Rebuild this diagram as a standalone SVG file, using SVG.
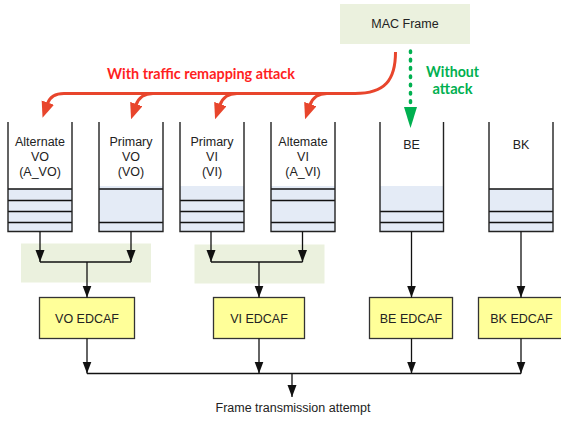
<svg xmlns="http://www.w3.org/2000/svg" width="561" height="422" viewBox="0 0 561 422">
  <style>
    .lbl { font-family: "Liberation Sans", Arial, sans-serif; font-size: 12.5px; fill: #222; text-anchor: middle; }
    .qwall { fill: none; stroke: #222; stroke-width: 1.4; }
    .qfill { fill: #E4EBF6; stroke: none; }
    .slot { stroke: #111; stroke-width: 1.4; }
    .merge { fill: #EBF1DE; stroke: none; }
    .edcaf { fill: #FFFF99; stroke: #333; stroke-width: 1.3; }
    .wire { fill: none; stroke: #111; stroke-width: 1.3; }
    .red { fill: none; stroke: #E8452C; stroke-width: 3; }
    .bold { font-family: Lato, "Liberation Sans", sans-serif; font-weight: 700; font-size: 15px; text-anchor: middle; }
  </style>
  <defs>
    <marker id="arr" markerUnits="userSpaceOnUse" markerWidth="12" markerHeight="10" refX="12" refY="4.5" orient="auto">
      <path d="M0,0 L12,4.5 L0,9 z" fill="#111"/>
    </marker>
    <marker id="redArr" markerUnits="userSpaceOnUse" markerWidth="16" markerHeight="14" refX="1" refY="6.5" orient="auto">
      <path d="M0,0 L16,6.5 L0,13 z" fill="#E8452C"/>
    </marker>
    <marker id="greenArr" markerUnits="userSpaceOnUse" markerWidth="22" markerHeight="14" refX="1" refY="6.5" orient="auto">
      <path d="M0,0 L21,6.5 L0,13 z" fill="#00B050"/>
    </marker>
  </defs>

  <!-- source frame -->
  <g id="mac-frame">
    <rect x="340" y="4" width="130" height="40" fill="#EBF1DE"/>
    <text class="lbl" x="405" y="28">MAC Frame</text>
  </g>

  <!-- merge areas behind the VO and VI pairs -->
  <g id="vo-merge"><rect class="merge" x="21" y="243.5" width="130" height="39"/></g>
  <g id="vi-merge"><rect class="merge" x="194.5" y="244.5" width="130" height="39"/></g>

  <!-- queues -->
  <g id="queue-a-vo">
    <rect class="qfill" x="8" y="189" width="64" height="42.5"/>
    <line class="slot" x1="8" y1="189" x2="72" y2="189"/>
    <line class="slot" x1="8" y1="200.5" x2="72" y2="200.5"/>
    <line class="slot" x1="8" y1="211.5" x2="72" y2="211.5"/>
    <line class="slot" x1="8" y1="222.5" x2="72" y2="222.5"/>
    <path class="qwall" d="M8,122 V231.5 H72 V122"/>
    <text class="lbl" x="40" y="146">Alternate</text>
    <text class="lbl" x="40" y="160.5">VO</text>
    <text class="lbl" x="40" y="175.5">(A_VO)</text>
  </g>
  <g id="queue-vo">
    <rect class="qfill" x="99" y="186" width="64" height="45.5"/>
    <line class="slot" x1="99" y1="189" x2="163" y2="189"/>
    <line class="slot" x1="99" y1="222.5" x2="163" y2="222.5"/>
    <path class="qwall" d="M99,122 V231.5 H163 V122"/>
    <text class="lbl" x="131" y="146">Primary</text>
    <text class="lbl" x="131" y="160.5">VO</text>
    <text class="lbl" x="131" y="175.5">(VO)</text>
  </g>
  <g id="queue-vi">
    <rect class="qfill" x="180" y="186" width="64" height="45.5"/>
    <line class="slot" x1="180" y1="200.5" x2="244" y2="200.5"/>
    <line class="slot" x1="180" y1="211.5" x2="244" y2="211.5"/>
    <line class="slot" x1="180" y1="222.5" x2="244" y2="222.5"/>
    <path class="qwall" d="M180,122 V231.5 H244 V122"/>
    <text class="lbl" x="212" y="146">Primary</text>
    <text class="lbl" x="212" y="160.5">VI</text>
    <text class="lbl" x="212" y="175.5">(VI)</text>
  </g>
  <g id="queue-a-vi">
    <rect class="qfill" x="271" y="186" width="64" height="45.5"/>
    <line class="slot" x1="271" y1="189" x2="335" y2="189"/>
    <line class="slot" x1="271" y1="200.5" x2="335" y2="200.5"/>
    <line class="slot" x1="271" y1="222.5" x2="335" y2="222.5"/>
    <path class="qwall" d="M271,122 V231.5 H335 V122"/>
    <text class="lbl" x="303" y="146">Altemate</text>
    <text class="lbl" x="303" y="160.5">VI</text>
    <text class="lbl" x="303" y="175.5">(A_VI)</text>
  </g>
  <g id="queue-be">
    <rect class="qfill" x="380" y="186" width="63.5" height="45.5"/>
    <line class="slot" x1="380" y1="211.5" x2="443.5" y2="211.5"/>
    <line class="slot" x1="380" y1="222.5" x2="443.5" y2="222.5"/>
    <path class="qwall" d="M380,122 V231.5 H443.5 V122"/>
    <text class="lbl" x="411.5" y="148.5">BE</text>
  </g>
  <g id="queue-bk">
    <rect class="qfill" x="489" y="189" width="64" height="42.5"/>
    <line class="slot" x1="489" y1="189" x2="553" y2="189"/>
    <line class="slot" x1="489" y1="211.5" x2="553" y2="211.5"/>
    <line class="slot" x1="489" y1="222.5" x2="553" y2="222.5"/>
    <path class="qwall" d="M489,122 V231.5 H553 V122"/>
    <text class="lbl" x="521" y="148.5">BK</text>
  </g>

  <!-- EDCAF functions -->
  <g id="vo-edcaf">
    <rect class="edcaf" x="39.5" y="297.5" width="95" height="41"/>
    <text class="lbl" x="87" y="322.5">VO EDCAF</text>
  </g>
  <g id="vi-edcaf">
    <rect class="edcaf" x="213.5" y="297.5" width="91" height="41"/>
    <text class="lbl" x="259" y="322.5">VI EDCAF</text>
  </g>
  <g id="be-edcaf">
    <rect class="edcaf" x="369.5" y="297.5" width="83" height="41"/>
    <text class="lbl" x="411" y="322.5">BE EDCAF</text>
  </g>
  <g id="bk-edcaf">
    <rect class="edcaf" x="478.5" y="297.5" width="86" height="41"/>
    <text class="lbl" x="521.5" y="322.5">BK EDCAF</text>
  </g>

  <g id="tx-attempt">
    <text class="lbl" x="293" y="412">Frame transmission attempt</text>
  </g>

  <!-- connectors -->
  <g id="connectors">
    <!-- queue outputs into merge points -->
    <line class="wire" x1="40" y1="231.5" x2="40" y2="262" marker-end="url(#arr)"/>
    <line class="wire" x1="131" y1="231.5" x2="131" y2="262" marker-end="url(#arr)"/>
    <line class="wire" x1="40" y1="262" x2="131" y2="262"/>
    <line class="wire" x1="87" y1="262" x2="87" y2="297.5" marker-end="url(#arr)"/>

    <line class="wire" x1="211" y1="231.5" x2="211" y2="262" marker-end="url(#arr)"/>
    <line class="wire" x1="302.5" y1="231.5" x2="302.5" y2="262" marker-end="url(#arr)"/>
    <line class="wire" x1="211" y1="262" x2="302.5" y2="262"/>
    <line class="wire" x1="259" y1="262" x2="259" y2="297.5" marker-end="url(#arr)"/>

    <line class="wire" x1="411.5" y1="231.5" x2="411.5" y2="297.5" marker-end="url(#arr)"/>
    <line class="wire" x1="521" y1="231.5" x2="521" y2="297.5" marker-end="url(#arr)"/>

    <!-- EDCAF outputs -->
    <line class="wire" x1="87" y1="338.5" x2="87" y2="373.5" marker-end="url(#arr)"/>
    <line class="wire" x1="259" y1="338.5" x2="259" y2="373.5" marker-end="url(#arr)"/>
    <line class="wire" x1="411.5" y1="338.5" x2="411.5" y2="373.5" marker-end="url(#arr)"/>
    <line class="wire" x1="521" y1="338.5" x2="521" y2="373.5" marker-end="url(#arr)"/>
    <line class="wire" x1="87" y1="373.5" x2="521" y2="373.5"/>
    <line class="wire" x1="292" y1="373.5" x2="292" y2="397" marker-end="url(#arr)"/>

    <!-- remapping attack paths -->
    <path class="red" d="M395.5,52 C395.5,80 385,93.5 355,93.5 L64,93.5 Q51,93.5 47.5,103.5" marker-end="url(#redArr)"/>
    <path class="red" d="M153,93.5 Q140,93.5 136,105" marker-end="url(#redArr)"/>
    <path class="red" d="M237,93.5 Q224,93.5 220,105" marker-end="url(#redArr)"/>
    <path class="red" d="M327,93.5 Q314,93.5 310,105" marker-end="url(#redArr)"/>

    <!-- normal mapping -->
    <path d="M410.5,51 V108" fill="none" stroke="#00B050" stroke-width="3.5" stroke-linecap="round" stroke-dasharray="1.6 6.7" marker-end="url(#greenArr)"/>
  </g>

  <text class="bold" x="201" y="79" fill="#FF1F1F" textLength="188" lengthAdjust="spacingAndGlyphs">With traffic remapping attack</text>
  <text class="bold" x="452.5" y="76.5" fill="#00B050" textLength="53" lengthAdjust="spacingAndGlyphs">Without</text>
  <text class="bold" x="452.5" y="93.5" fill="#00B050" textLength="40" lengthAdjust="spacingAndGlyphs">attack</text>
</svg>
